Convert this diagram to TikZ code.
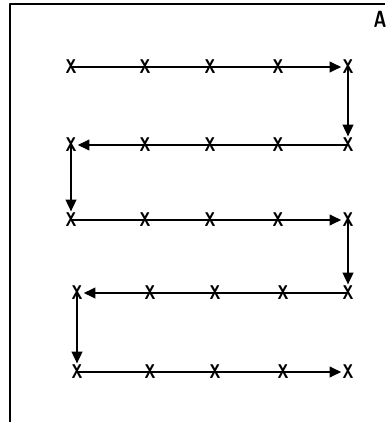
\documentclass[tikz,border=0pt]{standalone}
\usetikzlibrary{arrows.meta}
\begin{document}
\begin{tikzpicture}[x=0.03cm,y=-0.03cm,>={Triangle[length=10pt,width=9pt]},line join=round,line width=1.8pt]
	\tikzset{markx/.style={inner sep=0.5pt,xscale=0.75,font=\sffamily\bfseries\fontsize{17}{17}\selectfont}}
	\useasboundingbox (0,0) rectangle (385,422);
	
	% --- Khung ---
	\draw[line width=1.8pt] (10,422)--(10,4)--(385,4);
	\node[font=\sffamily\bfseries\fontsize{20}{20}\selectfont,xscale=0.75] (lblA) at (380,19) {A};
	
	% --- Các điểm X ---
	\foreach \r/\y in {1/67,2/145,3/220}{
		\foreach \c/\x in {1/71,2/145,3/210,4/278,5/348}{
			\node[markx] (p\r\c) at (\x,\y) {X};
		}
	}
	\foreach \r/\y in {4/293,5/372}{
		\foreach \c/\x in {1/77,2/150,3/215,4/283,5/348}{
			\node[markx] (p\r\c) at (\x,\y) {X};
		}
	}
	
	% --- Đường đi ---
	\draw[->] (p11.center)--(p15);
	\draw[->] (p15.center)--(p25);
	\draw[->] (p25.center)--(p21);
	\draw[->] (p21.center)--(p31);
	\draw[->] (p31.center)--(p35);
	\draw[->] (p35.center)--(p45);
	\draw[->] (p45.center)--(p41);
	\draw[->] (p41.center)--(p51);
	\draw[->] (p51.center)--(p55);
\end{tikzpicture}
\end{document}
